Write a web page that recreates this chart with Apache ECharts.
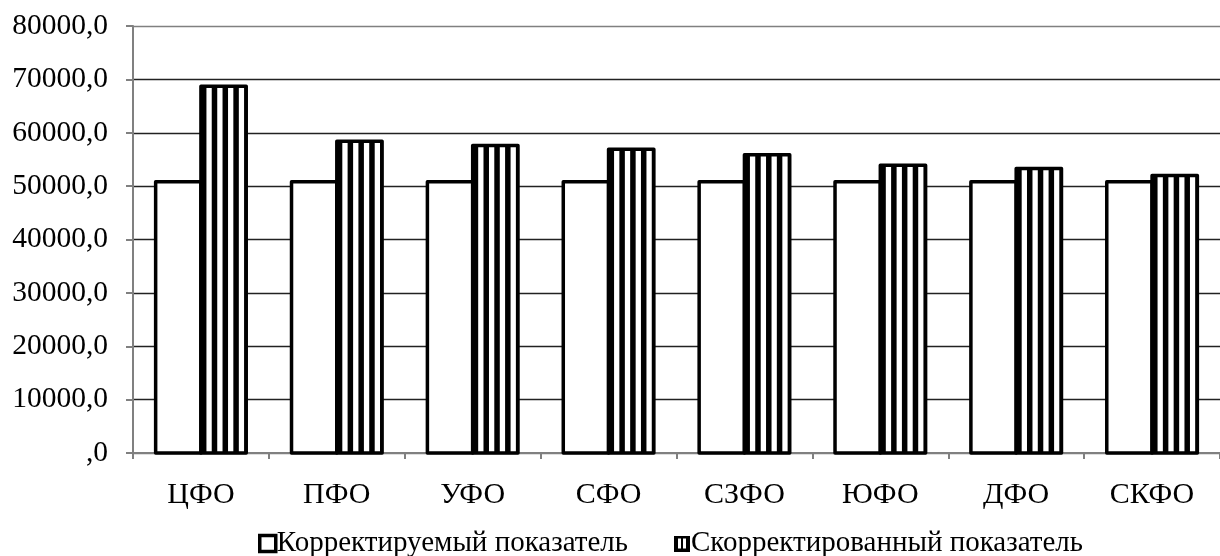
<!DOCTYPE html>
<html>
<head>
<meta charset="utf-8">
<script src="https://cdn.jsdelivr.net/npm/echarts@6/dist/echarts.min.js"></script>
<style>
  html, body { margin: 0; padding: 0; background: #fff; }
  #chart { width: 1220px; height: 556px; }
</style>
</head>
<body>
<div id="chart"></div>
<script>
// Federal districts and the two indicator series
const categories = ['ЦФО', 'ПФО', 'УФО', 'СФО', 'СЗФО', 'ЮФО', 'ДФО', 'СКФО'];
const seriesNames = ['Корректируемый показатель', 'Скорректированный показатель'];
const correctable = [50800, 50800, 50800, 50800, 50800, 50800, 50800, 50800];
const corrected = [68700, 58400, 57600, 56900, 55900, 53900, 53300, 52000];
const yTickLabels = [',0', '10000,0', '20000,0', '30000,0', '40000,0', '50000,0', '60000,0', '70000,0', '80000,0'];

const FONT = '"Liberation Serif", "Times New Roman", serif';
const BAR_RATIO = 1 / 3;      // each bar takes a third of the category band
const BORDER = 3.5;
const STRIPE_PERIOD = 10.8;
const STRIPE_WIDTH = 5.5;

// Legend icon for the striped series
function stripeIcon() {
  const c = document.createElement('canvas');
  c.width = 16; c.height = 16;
  const g = c.getContext('2d');
  g.fillStyle = '#000'; g.fillRect(0, 0, 16, 16);
  g.fillStyle = '#fff';
  g.fillRect(4, 3, 3, 10);
  g.fillRect(9, 3, 3, 10);
  return 'image://' + c.toDataURL();
}

function makeRender(slot, striped) {
  return function (params, api) {
    const idx = api.value(0);
    const val = api.value(1);
    const top = api.coord([idx, val]);
    const base = api.coord([idx, 0]);
    const band = api.size([1, 0])[0];
    const w = band * BAR_RATIO;
    const x = top[0] - w + slot * w;
    const y = top[1];
    const h = base[1] - top[1];
    const children = [{
      type: 'rect',
      shape: { x: x, y: y, width: w, height: h },
      style: { fill: '#fff', stroke: null }
    }];
    if (striped) {
      for (let sx = x; sx < x + w - 1; sx += STRIPE_PERIOD) {
        children.push({
          type: 'rect',
          shape: { x: sx, y: y, width: Math.min(STRIPE_WIDTH, x + w - sx), height: h },
          style: { fill: '#000' }
        });
      }
    }
    children.push({
      type: 'rect',
      shape: { x: x, y: y, width: w, height: h },
      style: { fill: null, stroke: '#000', lineWidth: BORDER, lineJoin: 'round' }
    });
    return { type: 'group', children: children };
  };
}

const chart = echarts.init(document.getElementById('chart'), null, { renderer: 'canvas' });

const splitColors = ['#808080'];
for (let i = 1; i < yTickLabels.length - 1; i++) splitColors.push('#222');
splitColors.push('#808080');

chart.setOption({
  animation: false,
  backgroundColor: '#fff',
  grid: { left: 133, top: 26, width: 1093, height: 427 },
  xAxis: {
    type: 'category',
    data: categories,
    boundaryGap: true,
    axisLine: { lineStyle: { color: '#808080', width: 2 } },
    axisTick: { show: true, length: 6, lineStyle: { color: '#808080', width: 2 } },
    axisLabel: { color: '#000', fontFamily: FONT, fontSize: 30, margin: 27 }
  },
  yAxis: {
    type: 'value',
    min: 0,
    max: 80000,
    interval: 10000,
    axisLine: { show: true, lineStyle: { color: '#808080', width: 2 } },
    axisTick: { show: true, length: 7, lineStyle: { color: '#808080', width: 2 } },
    axisLabel: {
      color: '#000', fontFamily: FONT, fontSize: 29.5, margin: 25,
      formatter: function (v) { return yTickLabels[Math.round(v / 10000)]; }
    },
    splitLine: { show: true, lineStyle: { color: splitColors, width: 1.3 } }
  },
  legend: {
    left: 253,
    top: 524,
    itemWidth: 16,
    itemHeight: 16,
    itemGap: 46,
    textStyle: { color: '#000', fontFamily: FONT, fontSize: 29, padding: [0, 0, 0, -4] },
    data: [
      { name: seriesNames[0], icon: 'rect', itemStyle: { color: '#fff', borderColor: '#000', borderWidth: 3.5 } },
      { name: seriesNames[1], icon: stripeIcon() }
    ]
  },
  series: [
    {
      name: seriesNames[0],
      type: 'custom',
      renderItem: makeRender(0, false),
      encode: { x: 0, y: 1 },
      itemStyle: { color: '#fff' },
      data: correctable.map((v, i) => [i, v])
    },
    {
      name: seriesNames[1],
      type: 'custom',
      renderItem: makeRender(1, true),
      encode: { x: 0, y: 1 },
      itemStyle: { color: '#000' },
      data: corrected.map((v, i) => [i, v])
    }
  ]
});
</script>
</body>
</html>
